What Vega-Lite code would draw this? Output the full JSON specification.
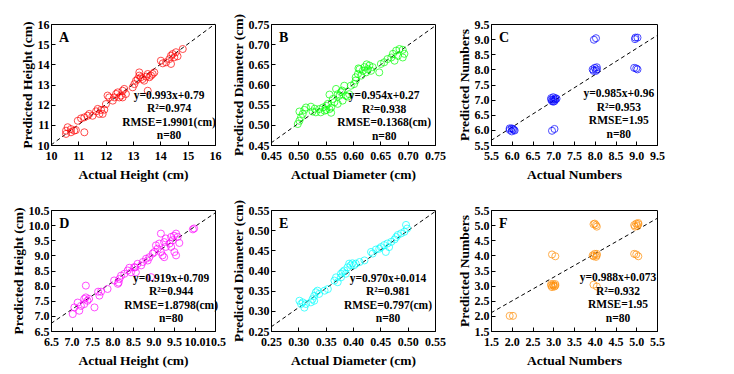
{
"$schema": "https://vega.github.io/schema/vega-lite/v6.json",
"background": "white",
"padding": {"left": 10, "top": 12, "right": 5, "bottom": 5},
"config": {
  "font": "Liberation Serif",
  "view": {"stroke": "black", "strokeWidth": 1},
  "axis": {"labelFont": "Liberation Serif", "labelFontWeight": "bold", "labelFontSize": 12, "labelColor": "black",
    "titleFont": "Liberation Serif", "titleFontWeight": "bold", "titleFontSize": 13.5, "titleColor": "black",
    "grid": false, "domainColor": "black", "tickColor": "black", "tickSize": -4, "labelPadding": 6,
    "labelOverlap": false, "labelFlush": false, "labelBound": false, "labelSeparation": 0, "titlePadding": 3, "tickCount": 30},
  "axisX": {"labelPadding": 9, "titlePadding": 6},
  "axisQuantitative": {"labelOverlap": false, "tickCount": 30}
},
"datasets": {
  "lines": [
    {"p":"A","x1":10,"y1":10,"x2":16,"y2":16},
    {"p":"B","x1":0.45,"y1":0.455,"x2":0.75,"y2":0.745},
    {"p":"C","x1":5.5,"y1":5.65,"x2":9.5,"y2":9.12},
    {"p":"D","x1":6.5,"y1":6.75,"x2":10.5,"y2":10.4},
    {"p":"E","x1":0.25,"y1":0.26,"x2":0.55,"y2":0.546},
    {"p":"F","x1":1.5,"y1":2.1,"x2":5.5,"y2":5.22}
  ],
  "ann": [
    {"p":"A","letter":"A","txt":["y=0.993x+0.79","R²=0.974","RMSE=1.9901(cm)","n=80"]},
    {"p":"B","letter":"B","txt":["y=0.954x+0.27","R²=0.938","RMSE=0.1368(cm)","n=80"]},
    {"p":"C","letter":"C","txt":["y=0.985x+0.96","R²=0.953","RMSE=1.95","n=80"]},
    {"p":"D","letter":"D","txt":["y=0.919x+0.709","R²=0.944","RMSE=1.8798(cm)","n=80"]},
    {"p":"E","letter":"E","txt":["y=0.970x+0.014","R²=0.981","RMSE=0.797(cm)","n=80"]},
    {"p":"F","letter":"F","txt":["y=0.988x+0.073","R²=0.932","RMSE=1.95","n=80"]}
  ],
  "pts": [
{"p":"A","x":10.55,"y":10.71},{"p":"A","x":10.61,"y":10.88},{"p":"A","x":10.73,"y":10.63},{"p":"A","x":10.55,"y":10.55},{"p":"A","x":10.85,"y":10.71},{"p":"A","x":10.91,"y":10.74},{"p":"A","x":10.73,"y":10.79},{"p":"A","x":11.22,"y":10.63},{"p":"A","x":10.98,"y":11.2},{"p":"A","x":11.1,"y":11.32},{"p":"A","x":11.22,"y":11.37},{"p":"A","x":11.34,"y":11.45},{"p":"A","x":11.4,"y":11.54},{"p":"A","x":11.52,"y":11.45},{"p":"A","x":11.65,"y":11.67},{"p":"A","x":11.71,"y":11.79},{"p":"A","x":11.83,"y":11.74},{"p":"A","x":11.95,"y":11.75},{"p":"A","x":11.77,"y":11.54},{"p":"A","x":11.89,"y":11.54},{"p":"A","x":12.01,"y":12.03},{"p":"A","x":12.13,"y":12.36},{"p":"A","x":12.07,"y":12.45},{"p":"A","x":12.26,"y":12.2},{"p":"A","x":12.32,"y":12.36},{"p":"A","x":12.38,"y":12.53},{"p":"A","x":12.44,"y":12.61},{"p":"A","x":12.56,"y":12.45},{"p":"A","x":12.5,"y":12.36},{"p":"A","x":12.62,"y":12.69},{"p":"A","x":12.68,"y":12.78},{"p":"A","x":12.74,"y":12.53},{"p":"A","x":12.62,"y":12.36},{"p":"A","x":12.99,"y":12.86},{"p":"A","x":13.05,"y":13.02},{"p":"A","x":13.11,"y":13.19},{"p":"A","x":13.17,"y":13.27},{"p":"A","x":13.23,"y":13.44},{"p":"A","x":13.23,"y":13.6},{"p":"A","x":13.29,"y":13.36},{"p":"A","x":13.35,"y":13.27},{"p":"A","x":13.41,"y":13.19},{"p":"A","x":13.48,"y":13.39},{"p":"A","x":13.54,"y":13.52},{"p":"A","x":13.6,"y":13.36},{"p":"A","x":13.72,"y":13.52},{"p":"A","x":13.78,"y":13.6},{"p":"A","x":13.66,"y":13.44},{"p":"A","x":13.54,"y":12.69},{"p":"A","x":14.02,"y":14.18},{"p":"A","x":14.09,"y":14.05},{"p":"A","x":14.21,"y":14.1},{"p":"A","x":14.33,"y":14.26},{"p":"A","x":14.39,"y":14.43},{"p":"A","x":14.39,"y":14.02},{"p":"A","x":14.45,"y":14.51},{"p":"A","x":14.51,"y":14.35},{"p":"A","x":14.57,"y":14.6},{"p":"A","x":14.63,"y":14.4},{"p":"A","x":14.82,"y":14.76},
{"p":"B","x":0.499,"y":0.502},{"p":"B","x":0.502,"y":0.51},{"p":"B","x":0.505,"y":0.519},{"p":"B","x":0.502,"y":0.533},{"p":"B","x":0.508,"y":0.527},{"p":"B","x":0.511,"y":0.537},{"p":"B","x":0.514,"y":0.543},{"p":"B","x":0.523,"y":0.545},{"p":"B","x":0.526,"y":0.533},{"p":"B","x":0.532,"y":0.531},{"p":"B","x":0.538,"y":0.539},{"p":"B","x":0.541,"y":0.531},{"p":"B","x":0.545,"y":0.543},{"p":"B","x":0.548,"y":0.535},{"p":"B","x":0.551,"y":0.547},{"p":"B","x":0.554,"y":0.552},{"p":"B","x":0.551,"y":0.537},{"p":"B","x":0.557,"y":0.539},{"p":"B","x":0.56,"y":0.543},{"p":"B","x":0.557,"y":0.575},{"p":"B","x":0.563,"y":0.564},{"p":"B","x":0.566,"y":0.556},{"p":"B","x":0.569,"y":0.589},{"p":"B","x":0.572,"y":0.576},{"p":"B","x":0.575,"y":0.572},{"p":"B","x":0.578,"y":0.581},{"p":"B","x":0.572,"y":0.552},{"p":"B","x":0.581,"y":0.56},{"p":"B","x":0.584,"y":0.597},{"p":"B","x":0.587,"y":0.572},{"p":"B","x":0.593,"y":0.576},{"p":"B","x":0.596,"y":0.597},{"p":"B","x":0.602,"y":0.601},{"p":"B","x":0.605,"y":0.61},{"p":"B","x":0.605,"y":0.618},{"p":"B","x":0.609,"y":0.626},{"p":"B","x":0.612,"y":0.638},{"p":"B","x":0.615,"y":0.622},{"p":"B","x":0.618,"y":0.634},{"p":"B","x":0.621,"y":0.643},{"p":"B","x":0.624,"y":0.63},{"p":"B","x":0.627,"y":0.638},{"p":"B","x":0.63,"y":0.647},{"p":"B","x":0.633,"y":0.634},{"p":"B","x":0.636,"y":0.643},{"p":"B","x":0.648,"y":0.63},{"p":"B","x":0.651,"y":0.651},{"p":"B","x":0.657,"y":0.655},{"p":"B","x":0.663,"y":0.663},{"p":"B","x":0.67,"y":0.667},{"p":"B","x":0.673,"y":0.676},{"p":"B","x":0.679,"y":0.684},{"p":"B","x":0.682,"y":0.671},{"p":"B","x":0.685,"y":0.688},{"p":"B","x":0.691,"y":0.686},{"p":"B","x":0.694,"y":0.676},{"p":"B","x":0.691,"y":0.667},{"p":"B","x":0.676,"y":0.659},{"p":"B","x":0.53,"y":0.54},{"p":"B","x":0.56,"y":0.53},{"p":"B","x":0.59,"y":0.57},{"p":"B","x":0.61,"y":0.64},{"p":"B","x":0.625,"y":0.65},{"p":"B","x":0.58,"y":0.585},
{"p":"C","x":6.0,"y":6.05},{"p":"C","x":5.95,"y":6.0},{"p":"C","x":6.05,"y":6.0},{"p":"C","x":6.0,"y":5.95},{"p":"C","x":5.95,"y":6.05},{"p":"C","x":6.03,"y":6.03},{"p":"C","x":6.07,"y":5.98},{"p":"C","x":6.97,"y":5.97},{"p":"C","x":7.03,"y":6.03},{"p":"C","x":6.95,"y":7.05},{"p":"C","x":7.0,"y":7.0},{"p":"C","x":7.05,"y":7.05},{"p":"C","x":6.97,"y":6.95},{"p":"C","x":7.03,"y":6.95},{"p":"C","x":7.0,"y":7.08},{"p":"C","x":6.95,"y":7.0},{"p":"C","x":7.05,"y":7.0},{"p":"C","x":7.0,"y":6.93},{"p":"C","x":7.08,"y":7.03},{"p":"C","x":7.95,"y":8.0},{"p":"C","x":8.0,"y":8.05},{"p":"C","x":8.05,"y":8.0},{"p":"C","x":8.05,"y":8.07},{"p":"C","x":7.97,"y":7.95},{"p":"C","x":8.03,"y":7.95},{"p":"C","x":7.98,"y":8.98},{"p":"C","x":8.03,"y":9.03},{"p":"C","x":8.97,"y":9.0},{"p":"C","x":9.03,"y":9.05},{"p":"C","x":8.98,"y":9.05},{"p":"C","x":8.95,"y":8.05},{"p":"C","x":9.03,"y":8.0},{"p":"C","x":9.0,"y":8.03},
{"p":"D","x":7.03,"y":7.06},{"p":"D","x":7.07,"y":7.28},{"p":"D","x":7.15,"y":7.44},{"p":"D","x":7.19,"y":7.17},{"p":"D","x":7.23,"y":7.33},{"p":"D","x":7.31,"y":7.56},{"p":"D","x":7.35,"y":7.61},{"p":"D","x":7.35,"y":8.0},{"p":"D","x":7.39,"y":7.5},{"p":"D","x":7.43,"y":7.56},{"p":"D","x":7.31,"y":7.39},{"p":"D","x":7.56,"y":7.28},{"p":"D","x":7.68,"y":7.67},{"p":"D","x":7.72,"y":7.8},{"p":"D","x":7.88,"y":7.89},{"p":"D","x":8.04,"y":8.17},{"p":"D","x":8.13,"y":8.06},{"p":"D","x":8.17,"y":8.22},{"p":"D","x":8.21,"y":8.33},{"p":"D","x":8.29,"y":8.39},{"p":"D","x":8.37,"y":8.5},{"p":"D","x":8.41,"y":8.59},{"p":"D","x":8.45,"y":8.44},{"p":"D","x":8.53,"y":8.61},{"p":"D","x":8.57,"y":8.44},{"p":"D","x":8.61,"y":8.72},{"p":"D","x":8.7,"y":8.67},{"p":"D","x":8.74,"y":8.78},{"p":"D","x":8.82,"y":8.89},{"p":"D","x":8.86,"y":8.83},{"p":"D","x":8.9,"y":8.94},{"p":"D","x":8.94,"y":8.28},{"p":"D","x":8.98,"y":9.06},{"p":"D","x":9.02,"y":9.11},{"p":"D","x":9.06,"y":9.33},{"p":"D","x":9.1,"y":9.22},{"p":"D","x":9.14,"y":9.39},{"p":"D","x":9.18,"y":9.72},{"p":"D","x":9.18,"y":9.11},{"p":"D","x":9.22,"y":9.0},{"p":"D","x":9.26,"y":9.44},{"p":"D","x":9.3,"y":9.28},{"p":"D","x":9.3,"y":9.56},{"p":"D","x":9.39,"y":9.39},{"p":"D","x":9.43,"y":9.61},{"p":"D","x":9.47,"y":9.5},{"p":"D","x":9.51,"y":9.11},{"p":"D","x":9.55,"y":9.0},{"p":"D","x":9.55,"y":9.72},{"p":"D","x":9.59,"y":9.61},{"p":"D","x":9.63,"y":9.41},{"p":"D","x":9.99,"y":9.89},{"p":"D","x":9.96,"y":9.86},{"p":"D","x":9.26,"y":8.94},{"p":"D","x":9.43,"y":9.28},{"p":"D","x":7.65,"y":7.8},{"p":"D","x":8.15,"y":8.1},{"p":"D","x":8.55,"y":8.6},{"p":"D","x":9.5,"y":9.65},
{"p":"E","x":0.302,"y":0.325},{"p":"E","x":0.305,"y":0.317},{"p":"E","x":0.308,"y":0.321},{"p":"E","x":0.311,"y":0.308},{"p":"E","x":0.314,"y":0.317},{"p":"E","x":0.323,"y":0.321},{"p":"E","x":0.326,"y":0.329},{"p":"E","x":0.329,"y":0.337},{"p":"E","x":0.332,"y":0.346},{"p":"E","x":0.335,"y":0.35},{"p":"E","x":0.329,"y":0.325},{"p":"E","x":0.338,"y":0.342},{"p":"E","x":0.348,"y":0.35},{"p":"E","x":0.354,"y":0.354},{"p":"E","x":0.366,"y":0.375},{"p":"E","x":0.369,"y":0.383},{"p":"E","x":0.372,"y":0.371},{"p":"E","x":0.378,"y":0.383},{"p":"E","x":0.381,"y":0.396},{"p":"E","x":0.384,"y":0.4},{"p":"E","x":0.387,"y":0.392},{"p":"E","x":0.39,"y":0.408},{"p":"E","x":0.393,"y":0.417},{"p":"E","x":0.396,"y":0.413},{"p":"E","x":0.399,"y":0.418},{"p":"E","x":0.402,"y":0.413},{"p":"E","x":0.405,"y":0.417},{"p":"E","x":0.412,"y":0.421},{"p":"E","x":0.421,"y":0.425},{"p":"E","x":0.433,"y":0.446},{"p":"E","x":0.436,"y":0.442},{"p":"E","x":0.442,"y":0.452},{"p":"E","x":0.448,"y":0.454},{"p":"E","x":0.451,"y":0.458},{"p":"E","x":0.457,"y":0.463},{"p":"E","x":0.46,"y":0.446},{"p":"E","x":0.463,"y":0.467},{"p":"E","x":0.466,"y":0.458},{"p":"E","x":0.47,"y":0.471},{"p":"E","x":0.476,"y":0.477},{"p":"E","x":0.479,"y":0.483},{"p":"E","x":0.482,"y":0.488},{"p":"E","x":0.488,"y":0.492},{"p":"E","x":0.494,"y":0.496},{"p":"E","x":0.497,"y":0.513},{"p":"E","x":0.499,"y":0.504},{"p":"E","x":0.378,"y":0.392},
{"p":"F","x":1.95,"y":2.0},{"p":"F","x":2.03,"y":2.0},{"p":"F","x":2.95,"y":3.0},{"p":"F","x":3.0,"y":3.05},{"p":"F","x":3.05,"y":3.0},{"p":"F","x":2.97,"y":2.95},{"p":"F","x":3.03,"y":2.97},{"p":"F","x":3.0,"y":3.0},{"p":"F","x":2.95,"y":3.05},{"p":"F","x":3.05,"y":3.05},{"p":"F","x":2.97,"y":4.03},{"p":"F","x":3.05,"y":3.97},{"p":"F","x":3.97,"y":3.03},{"p":"F","x":4.05,"y":2.97},{"p":"F","x":3.95,"y":4.0},{"p":"F","x":4.0,"y":4.05},{"p":"F","x":4.05,"y":4.0},{"p":"F","x":4.03,"y":3.95},{"p":"F","x":3.97,"y":3.97},{"p":"F","x":4.05,"y":4.05},{"p":"F","x":3.97,"y":5.03},{"p":"F","x":4.03,"y":5.0},{"p":"F","x":4.05,"y":4.95},{"p":"F","x":4.0,"y":5.05},{"p":"F","x":4.95,"y":5.0},{"p":"F","x":5.0,"y":5.05},{"p":"F","x":5.05,"y":5.03},{"p":"F","x":4.97,"y":4.95},{"p":"F","x":5.03,"y":4.97},{"p":"F","x":5.05,"y":5.07},{"p":"F","x":4.95,"y":4.05},{"p":"F","x":5.0,"y":4.03},{"p":"F","x":5.05,"y":3.97}
  ]
},
"concat": [
  {"width":164,"height":121,"layer":[
    {"data":{"name":"lines"},"transform":[{"filter":"datum.p=='A'"}],"mark":{"type":"rule","strokeDash":[4,3],"color":"black","strokeWidth":1},
     "encoding":{"x":{"field":"x1","type":"quantitative","scale":{"domain":[10,16],"nice":false,"zero":false},"axis":{"title":"Actual Height (cm)","values":[10,11,12,13,14,15,16],"format":"d","labelOverlap":false,"tickCount":30}},
       "y":{"field":"y1","type":"quantitative","scale":{"domain":[10,16],"nice":false,"zero":false},"axis":{"title":"Predicted Height (cm)","values":[10,11,12,13,14,15,16],"format":"d","labelOverlap":false,"tickCount":30}},
       "x2":{"field":"x2"},"y2":{"field":"y2"}}},
    {"data":{"name":"pts"},"transform":[{"filter":"datum.p=='A'"}],"mark":{"type":"point","shape":"circle","filled":false,"size":50,"strokeWidth":1,"color":"#FF0000"},
     "encoding":{"x":{"field":"x","type":"quantitative"},"y":{"field":"y","type":"quantitative"}}},
    {"data":{"name":"ann"},"transform":[{"filter":"datum.p=='A'"}],"mark":{"type":"text","font":"Liberation Serif","fontWeight":"bold","fontSize":11.5,"lineHeight":13.5,"align":"center","baseline":"top","color":"black"},
     "encoding":{"x":{"datum":14.32,"type":"quantitative"},"y":{"datum":12.73,"type":"quantitative"},"text":{"field":"txt","type":"nominal"}}},
    {"data":{"name":"ann"},"transform":[{"filter":"datum.p=='A'"}],"mark":{"type":"text","font":"Liberation Serif","fontWeight":"bold","fontSize":14,"align":"left","baseline":"top","color":"black"},
     "encoding":{"x":{"datum":10.29,"type":"quantitative"},"y":{"datum":15.65,"type":"quantitative"},"text":{"field":"letter","type":"nominal"}}}
  ]},
  {"width":164,"height":121,"layer":[
    {"data":{"name":"lines"},"transform":[{"filter":"datum.p=='B'"}],"mark":{"type":"rule","strokeDash":[4,3],"color":"black","strokeWidth":1},
     "encoding":{"x":{"field":"x1","type":"quantitative","scale":{"domain":[0.45,0.75],"nice":false,"zero":false},"axis":{"title":"Actual Diameter (cm)","values":[0.45,0.5,0.55,0.6,0.65,0.7,0.75],"format":".2f","labelOverlap":false,"tickCount":30}},
       "y":{"field":"y1","type":"quantitative","scale":{"domain":[0.45,0.75],"nice":false,"zero":false},"axis":{"title":"Predicted Diameter (cm)","values":[0.45,0.5,0.55,0.6,0.65,0.7,0.75],"format":".2f","labelOverlap":false,"tickCount":30}},
       "x2":{"field":"x2"},"y2":{"field":"y2"}}},
    {"data":{"name":"pts"},"transform":[{"filter":"datum.p=='B'"}],"mark":{"type":"point","shape":"circle","filled":false,"size":50,"strokeWidth":1,"color":"#00FF00"},
     "encoding":{"x":{"field":"x","type":"quantitative"},"y":{"field":"y","type":"quantitative"}}},
    {"data":{"name":"ann"},"transform":[{"filter":"datum.p=='B'"}],"mark":{"type":"text","font":"Liberation Serif","fontWeight":"bold","fontSize":11.5,"lineHeight":13.5,"align":"center","baseline":"top","color":"black"},
     "encoding":{"x":{"datum":0.657,"type":"quantitative"},"y":{"datum":0.586,"type":"quantitative"},"text":{"field":"txt","type":"nominal"}}},
    {"data":{"name":"ann"},"transform":[{"filter":"datum.p=='B'"}],"mark":{"type":"text","font":"Liberation Serif","fontWeight":"bold","fontSize":14,"align":"left","baseline":"top","color":"black"},
     "encoding":{"x":{"datum":0.4646,"type":"quantitative"},"y":{"datum":0.7326,"type":"quantitative"},"text":{"field":"letter","type":"nominal"}}}
  ]},
  {"width":166,"height":121,"layer":[
    {"data":{"name":"lines"},"transform":[{"filter":"datum.p=='C'"}],"mark":{"type":"rule","strokeDash":[4,3],"color":"black","strokeWidth":1},
     "encoding":{"x":{"field":"x1","type":"quantitative","scale":{"domain":[5.5,9.5],"nice":false,"zero":false},"axis":{"title":"Actual Numbers","values":[5.5,6,6.5,7,7.5,8,8.5,9,9.5],"format":".1f","labelOverlap":false,"tickCount":30}},
       "y":{"field":"y1","type":"quantitative","scale":{"domain":[5.5,9.5],"nice":false,"zero":false},"axis":{"title":"Predicted Numbers","values":[5.5,6,6.5,7,7.5,8,8.5,9,9.5],"format":".1f","labelOverlap":false,"tickCount":30}},
       "x2":{"field":"x2"},"y2":{"field":"y2"}}},
    {"data":{"name":"pts"},"transform":[{"filter":"datum.p=='C'"}],"mark":{"type":"point","shape":"circle","filled":false,"size":50,"strokeWidth":1,"color":"#0000FF"},
     "encoding":{"x":{"field":"x","type":"quantitative"},"y":{"field":"y","type":"quantitative"}}},
    {"data":{"name":"ann"},"transform":[{"filter":"datum.p=='C'"}],"mark":{"type":"text","font":"Liberation Serif","fontWeight":"bold","fontSize":11.5,"lineHeight":13.5,"align":"center","baseline":"top","color":"black"},
     "encoding":{"x":{"datum":8.58,"type":"quantitative"},"y":{"datum":7.38,"type":"quantitative"},"text":{"field":"txt","type":"nominal"}}},
    {"data":{"name":"ann"},"transform":[{"filter":"datum.p=='C'"}],"mark":{"type":"text","font":"Liberation Serif","fontWeight":"bold","fontSize":14,"align":"left","baseline":"top","color":"black"},
     "encoding":{"x":{"datum":5.69,"type":"quantitative"},"y":{"datum":9.27,"type":"quantitative"},"text":{"field":"letter","type":"nominal"}}}
  ]},
  {"width":164,"height":121,"layer":[
    {"data":{"name":"lines"},"transform":[{"filter":"datum.p=='D'"}],"mark":{"type":"rule","strokeDash":[4,3],"color":"black","strokeWidth":1},
     "encoding":{"x":{"field":"x1","type":"quantitative","scale":{"domain":[6.5,10.5],"nice":false,"zero":false},"axis":{"title":"Actual Height (cm)","values":[6.5,7,7.5,8,8.5,9,9.5,10,10.5],"format":".1f","labelOverlap":false,"tickCount":30}},
       "y":{"field":"y1","type":"quantitative","scale":{"domain":[6.5,10.5],"nice":false,"zero":false},"axis":{"title":"Predicted Height (cm)","values":[6.5,7,7.5,8,8.5,9,9.5,10,10.5],"format":".1f","labelOverlap":false,"tickCount":30}},
       "x2":{"field":"x2"},"y2":{"field":"y2"}}},
    {"data":{"name":"pts"},"transform":[{"filter":"datum.p=='D'"}],"mark":{"type":"point","shape":"circle","filled":false,"size":50,"strokeWidth":1,"color":"#FF00FF"},
     "encoding":{"x":{"field":"x","type":"quantitative"},"y":{"field":"y","type":"quantitative"}}},
    {"data":{"name":"ann"},"transform":[{"filter":"datum.p=='D'"}],"mark":{"type":"text","font":"Liberation Serif","fontWeight":"bold","fontSize":11.5,"lineHeight":13.5,"align":"center","baseline":"top","color":"black"},
     "encoding":{"x":{"datum":9.43,"type":"quantitative"},"y":{"datum":8.43,"type":"quantitative"},"text":{"field":"txt","type":"nominal"}}},
    {"data":{"name":"ann"},"transform":[{"filter":"datum.p=='D'"}],"mark":{"type":"text","font":"Liberation Serif","fontWeight":"bold","fontSize":14,"align":"left","baseline":"top","color":"black"},
     "encoding":{"x":{"datum":6.7,"type":"quantitative"},"y":{"datum":10.27,"type":"quantitative"},"text":{"field":"letter","type":"nominal"}}}
  ]},
  {"width":164,"height":121,"layer":[
    {"data":{"name":"lines"},"transform":[{"filter":"datum.p=='E'"}],"mark":{"type":"rule","strokeDash":[4,3],"color":"black","strokeWidth":1},
     "encoding":{"x":{"field":"x1","type":"quantitative","scale":{"domain":[0.25,0.55],"nice":false,"zero":false},"axis":{"title":"Actual Diameter (cm)","values":[0.25,0.3,0.35,0.4,0.45,0.5,0.55],"format":".2f","labelOverlap":false,"tickCount":30}},
       "y":{"field":"y1","type":"quantitative","scale":{"domain":[0.25,0.55],"nice":false,"zero":false},"axis":{"title":"Predicted Diameter (cm)","values":[0.25,0.3,0.35,0.4,0.45,0.5,0.55],"format":".2f","labelOverlap":false,"tickCount":30}},
       "x2":{"field":"x2"},"y2":{"field":"y2"}}},
    {"data":{"name":"pts"},"transform":[{"filter":"datum.p=='E'"}],"mark":{"type":"point","shape":"circle","filled":false,"size":50,"strokeWidth":1,"color":"#00FFFF"},
     "encoding":{"x":{"field":"x","type":"quantitative"},"y":{"field":"y","type":"quantitative"}}},
    {"data":{"name":"ann"},"transform":[{"filter":"datum.p=='E'"}],"mark":{"type":"text","font":"Liberation Serif","fontWeight":"bold","fontSize":11.5,"lineHeight":13.5,"align":"center","baseline":"top","color":"black"},
     "encoding":{"x":{"datum":0.464,"type":"quantitative"},"y":{"datum":0.395,"type":"quantitative"},"text":{"field":"txt","type":"nominal"}}},
    {"data":{"name":"ann"},"transform":[{"filter":"datum.p=='E'"}],"mark":{"type":"text","font":"Liberation Serif","fontWeight":"bold","fontSize":14,"align":"left","baseline":"top","color":"black"},
     "encoding":{"x":{"datum":0.2646,"type":"quantitative"},"y":{"datum":0.5325,"type":"quantitative"},"text":{"field":"letter","type":"nominal"}}}
  ]},
  {"width":166,"height":121,"layer":[
    {"data":{"name":"lines"},"transform":[{"filter":"datum.p=='F'"}],"mark":{"type":"rule","strokeDash":[4,3],"color":"black","strokeWidth":1},
     "encoding":{"x":{"field":"x1","type":"quantitative","scale":{"domain":[1.5,5.5],"nice":false,"zero":false},"axis":{"title":"Actual Numbers","values":[1.5,2,2.5,3,3.5,4,4.5,5,5.5],"format":".1f","labelOverlap":false,"tickCount":30}},
       "y":{"field":"y1","type":"quantitative","scale":{"domain":[1.5,5.5],"nice":false,"zero":false},"axis":{"title":"Predicted Numbers","values":[1.5,2,2.5,3,3.5,4,4.5,5,5.5],"format":".1f","labelOverlap":false,"tickCount":30}},
       "x2":{"field":"x2"},"y2":{"field":"y2"}}},
    {"data":{"name":"pts"},"transform":[{"filter":"datum.p=='F'"}],"mark":{"type":"point","shape":"circle","filled":false,"size":50,"strokeWidth":1,"color":"#FF8C00"},
     "encoding":{"x":{"field":"x","type":"quantitative"},"y":{"field":"y","type":"quantitative"}}},
    {"data":{"name":"ann"},"transform":[{"filter":"datum.p=='F'"}],"mark":{"type":"text","font":"Liberation Serif","fontWeight":"bold","fontSize":11.5,"lineHeight":13.5,"align":"center","baseline":"top","color":"black"},
     "encoding":{"x":{"datum":4.56,"type":"quantitative"},"y":{"datum":3.45,"type":"quantitative"},"text":{"field":"txt","type":"nominal"}}},
    {"data":{"name":"ann"},"transform":[{"filter":"datum.p=='F'"}],"mark":{"type":"text","font":"Liberation Serif","fontWeight":"bold","fontSize":14,"align":"left","baseline":"top","color":"black"},
     "encoding":{"x":{"datum":1.69,"type":"quantitative"},"y":{"datum":5.27,"type":"quantitative"},"text":{"field":"letter","type":"nominal"}}}
  ]}
],
"columns": 3,
"spacing": {"row": 65, "column": 56},
"bounds": "flush"
}
